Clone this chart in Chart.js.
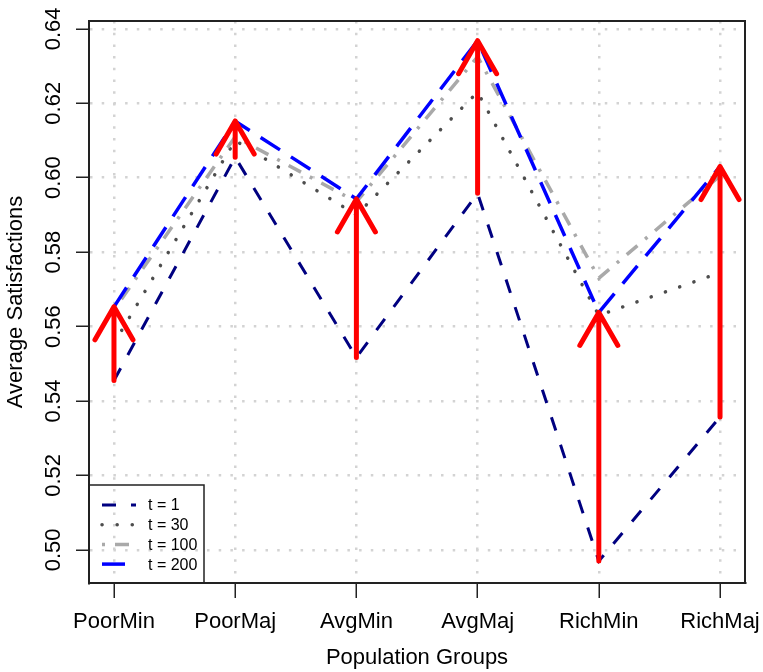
<!DOCTYPE html>
<html>
<head>
<meta charset="utf-8">
<title>Average Satisfactions</title>
<script src="https://cdn.jsdelivr.net/npm/chart.js"></script>
<style>
    html, body { margin: 0; padding: 0; background: #fff; }
    #wrap { width: 763px; height: 672px; }
</style>
</head>
<body>
<div id="wrap"><canvas id="chart" width="763" height="672"></canvas></div>
<script>
// Data
const groups = ['PoorMin', 'PoorMaj', 'AvgMin', 'AvgMaj', 'RichMin', 'RichMaj'];
const t1 = [0.5455, 0.6055, 0.5517, 0.5958, 0.4970, 0.5357];
const t30 = [0.5555, 0.6100, 0.5900, 0.6230, 0.5630, 0.5745];
const t100 = [0.5645, 0.6110, 0.5935, 0.6325, 0.5730, 0.6005];
const t200 = [0.5653, 0.6152, 0.5943, 0.6368, 0.5638, 0.6030];
const yTicks = [0.50, 0.52, 0.54, 0.56, 0.58, 0.60, 0.62, 0.64];
const legendLabels = ['t = 1', 't = 30', 't = 100', 't = 200'];

Chart.defaults.font.family = '"Liberation Sans", Arial, sans-serif';
Chart.defaults.color = '#000';

function points(values) {
    return values.map((v, i) => ({ x: i, y: v }));
}

// Red arrows t = 1 -> t = 200, plot box and legend
const extrasPlugin = {
    id: 'extras',
    afterDatasetsDraw(chart) {
        const ctx = chart.ctx;
        const xs = chart.scales.x;
        const ys = chart.scales.y;
        ctx.save();
        ctx.strokeStyle = '#ff0000';
        ctx.lineWidth = 5;
        ctx.lineCap = 'round';
        ctx.lineJoin = 'round';
        for (let i = 0; i < groups.length; i++) {
            const x = xs.getPixelForValue(i);
            const y0 = ys.getPixelForValue(t1[i]);
            const y1 = ys.getPixelForValue(t200[i]);
            ctx.beginPath();
            ctx.moveTo(x, y0);
            ctx.lineTo(x, y1);
            ctx.moveTo(x - 19, y1 + 33);
            ctx.lineTo(x, y1);
            ctx.lineTo(x + 19, y1 + 33);
            ctx.stroke();
        }
        ctx.restore();
    },
    afterDraw(chart) {
        const ctx = chart.ctx;
        const area = chart.chartArea;
        ctx.save();
        ctx.strokeStyle = '#222';
        ctx.lineWidth = 2;
        ctx.strokeRect(area.left, area.top, area.right - area.left, area.bottom - area.top);

        // legend box (transparent, like R)
        const lx = area.left;
        const ly = area.bottom - 98;
        ctx.lineWidth = 1.5;
        ctx.strokeRect(lx, ly, 115, 98);
        ctx.font = '16px "Liberation Sans", Arial, sans-serif';
        ctx.textBaseline = 'middle';
        ctx.fillStyle = '#000';
        chart.data.datasets.forEach((ds, i) => {
            const y = ly + 20 + i * 19.7;
            ctx.save();
            ctx.strokeStyle = ds.borderColor;
            ctx.lineWidth = ds.borderWidth;
            ctx.lineCap = ds.borderCapStyle || 'butt';
            ctx.setLineDash(ds.borderDash || []);
            ctx.beginPath();
            ctx.moveTo(lx + 13, y);
            ctx.lineTo(lx + 47, y);
            ctx.stroke();
            ctx.restore();
            ctx.fillText(legendLabels[i], lx + 59, y + 1);
        });
        ctx.restore();
    }
};

new Chart(document.getElementById('chart'), {
    type: 'line',
    data: {
        datasets: [
            {
                label: legendLabels[0],
                data: points(t1),
                borderColor: '#000080',
                borderWidth: 3,
                borderDash: [14, 15],
                order: 3
            },
            {
                label: legendLabels[1],
                data: points(t30),
                borderColor: '#4d4d4d',
                borderWidth: 3.5,
                borderDash: [0.1, 15],
                borderCapStyle: 'round',
                order: 2
            },
            {
                label: legendLabels[2],
                data: points(t100),
                borderColor: '#a9a9a9',
                borderWidth: 3.5,
                borderDash: [3, 10, 14, 10],
                order: 1
            },
            {
                label: legendLabels[3],
                data: points(t200),
                borderColor: '#0000ff',
                borderWidth: 3.5,
                borderDash: [23, 13],
                order: 0
            }
        ]
    },
    options: {
        responsive: false,
        animation: false,
        layout: { padding: { top: 21, right: 18, left: 0, bottom: 0 } },
        elements: {
            line: { tension: 0, fill: false },
            point: { radius: 0, hoverRadius: 0 }
        },
        plugins: {
            legend: { display: false },
            tooltip: { enabled: false }
        },
        scales: {
            x: {
                type: 'linear',
                position: 'bottom',
                min: -0.206,
                max: 5.206,
                afterBuildTicks: s => { s.ticks = groups.map((g, i) => ({ value: i })); },
                // fixed axis height, labels may overhang the plot edges
                afterFit: s => { s.height = 89; s.paddingLeft = 0; s.paddingRight = 0; },
                ticks: {
                    callback: v => groups[v],
                    autoSkip: false,
                    maxRotation: 0,
                    font: { size: 22 },
                    color: '#000',
                    padding: 11
                },
                grid: {
                    color: '#d3d3d3',
                    lineWidth: 2.5,
                    tickColor: '#222',
                    tickLength: 15,
                    tickWidth: 1.5
                },
                border: { display: true, color: '#222', width: 2, dash: [2.5, 9.2] },
                title: {
                    display: true,
                    text: 'Population Groups',
                    font: { size: 22 },
                    color: '#000',
                    padding: { top: 0, bottom: 1 }
                }
            },
            y: {
                type: 'linear',
                min: 0.4911,
                max: 0.6421,
                afterBuildTicks: s => { s.ticks = yTicks.map(v => ({ value: v })); },
                afterFit: s => { s.width = 89; s.paddingTop = 0; s.paddingBottom = 0; },
                ticks: {
                    callback: v => v.toFixed(2),
                    minRotation: 90,
                    maxRotation: 90,
                    crossAlign: 'center',
                    font: { size: 22 },
                    color: '#000',
                    padding: 1
                },
                grid: {
                    color: '#d3d3d3',
                    lineWidth: 2.5,
                    tickColor: '#222',
                    tickLength: 13,
                    tickWidth: 1.5
                },
                border: { display: true, color: '#222', width: 2, dash: [2.5, 9.2] },
                title: {
                    display: true,
                    text: 'Average Satisfactions',
                    font: { size: 22 },
                    color: '#000',
                    padding: { top: 3, bottom: 0 }
                }
            }
        }
    },
    plugins: [extrasPlugin]
});
</script>
</body>
</html>
